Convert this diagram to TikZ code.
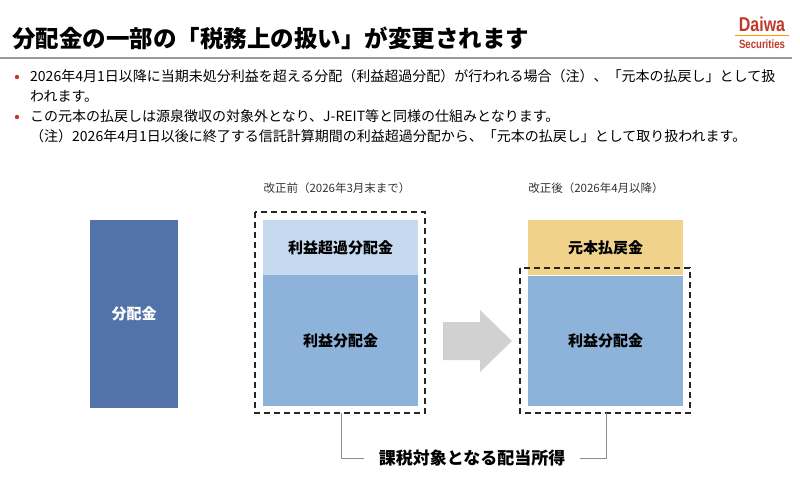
\documentclass[tikz,border=0pt]{standalone}
\usepackage{fontspec}
\setmainfont{Noto Sans CJK JP}
\newfontfamily\logof{Liberation Sans}
\begin{document}
\begin{tikzpicture}[x=1pt,y=-1pt,
  lbl/.style={font=\fontsize{15}{17}\selectfont\bfseries, text=black},
  bul/.style={anchor=base west,font=\fontsize{14}{16}\selectfont, inner sep=0},
  dbox/.style={draw=black!85, line width=1.6pt, dash pattern=on 6pt off 4pt},
  br/.style={draw=black!45, line width=0.8pt}]
\definecolor{dk}{HTML}{5272AA}
\definecolor{lt}{HTML}{C6DAEF}
\definecolor{md}{HTML}{8DB3DA}
\definecolor{yl}{HTML}{F0D28A}
\definecolor{rd}{HTML}{C0392B}
\useasboundingbox (0,0) rectangle (800,494);
\node[anchor=base west, inner sep=0, font=\fontsize{23.5}{26}\selectfont\bfseries] (title) at (12,48) {分配金の一部の「税務上の扱い」が変更されます};
\draw[black!40, line width=1.2pt] (0,58) -- (792,58);
\node[inner sep=0, text=rd, font=\logof\fontsize{20}{22}\selectfont\bfseries, xscale=0.8] (logo1) at (762,24) {Daiwa};
\draw[orange!80!yellow, line width=0.8pt] (735,35) -- (789,35);
\node[inner sep=0, text=rd, font=\logof\fontsize{12}{13}\selectfont\bfseries, xscale=0.8] (logo2) at (762,44) {Securities};
\fill[rd] (17,77) circle (2.2pt);
\node[bul] (t1) at (30,82) {2026年4月1日以降に当期未処分利益を超える分配（利益超過分配）が行われる場合（注）、「元本の払戻し」として扱};
\node[bul] (t2) at (30,102) {われます。};
\fill[rd] (17,117) circle (2.2pt);
\node[bul] (t3) at (30,122) {この元本の払戻しは源泉徴収の対象外となり、J-REIT等と同様の仕組みとなります。};
\node[bul] (t4) at (30,142) {（注）2026年4月1日以後に終了する信託計算期間の利益超過分配から、「元本の払戻し」として取り扱われます。};
% left
\node[fill=dk, minimum width=88pt, minimum height=188pt, inner sep=0, text=white, font=\fontsize{15}{17}\selectfont\bfseries] (div) at (134,314) {分配金};
% before
\node[font=\fontsize{11.5}{13}\selectfont, text=black!80] (bef) at (337,188) {改正前（2026年3月末まで）};
\node[fill=lt, minimum width=155pt, minimum height=55pt, inner sep=0, lbl] (ex1) at (340.5,247.5) {利益超過分配金};
\node[fill=md, minimum width=155pt, minimum height=131pt, inner sep=0, lbl] (pr1) at (340.5,340.5) {利益分配金};
\draw[dbox] (255,212) rectangle (425,413);
% arrow
\fill[black!18] (443,322) -- (480,322) -- (480,310) -- (512,341) -- (480,372) -- (480,360) -- (443,360) -- cycle;
% after
\node[font=\fontsize{11.5}{13}\selectfont, text=black!80] (aft) at (596,188) {改正後（2026年4月以降）};
\node[fill=yl, minimum width=155pt, minimum height=55pt, inner sep=0, lbl] (ret) at (605.5,247.5) {元本払戻金};
\node[fill=md, minimum width=155pt, minimum height=130pt, inner sep=0, lbl] (pr2) at (605.5,341) {利益分配金};
\draw[dbox] (520,268) rectangle (690,413);
% bracket
\node[font=\fontsize{17}{19}\selectfont\bfseries, inner xsep=15pt] (tax) at (472,458) {課税対象となる配当所得};
\coordinate (bl) at (341,413);
\coordinate (brr) at (606,413);
\draw[br] (bl) |- (tax.west);
\draw[br] (brr) |- (tax.east);
\end{tikzpicture}
\end{document}
